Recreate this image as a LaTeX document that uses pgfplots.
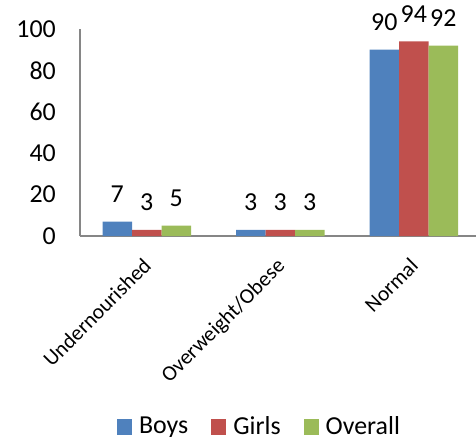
\documentclass[border=0pt]{standalone}
\usepackage{fontspec}
\setmainfont{Carlito}
\usepackage{pgfplots}
\pgfplotsset{compat=1.18}

\definecolor{boys}{HTML}{4F81BD}
\definecolor{girls}{HTML}{C0504D}
\definecolor{overall}{HTML}{9BBB59}
\definecolor{axisgray}{HTML}{868686}

\newcommand{\bigfont}{\fontsize{26}{31}\selectfont}
\newcommand{\catfont}{\fontsize{21.5}{25}\selectfont}

\begin{document}
\begin{tikzpicture}
\begin{axis}[
  scale only axis,
  width=396bp, height=207bp,
  xmin=-0.5, xmax=2.466,
  ymin=0, ymax=100,
  axis x line*=bottom,
  axis y line*=left,
  axis line style={axisgray, line width=1.3bp},
  ybar=0pt,
  bar width=29.5bp,
  xtick={0,1,2},
  xticklabels={Undernourished, Overweight/Obese, Normal},
  ytick={0,20,40,60,80,100},
  major tick length=0pt,
  /pgf/number format/assume math mode=true,
  yticklabel style={font=\bigfont, inner sep=0pt, anchor=east, xshift=-24bp},
  xticklabel style={font=\catfont, inner sep=0pt, rotate=45, anchor=north east, xshift=-18bp, yshift=-11bp},
  nodes near coords,
  every node near coord/.append style={font=\bigfont, text=black, inner sep=0pt, anchor=south, yshift=18.5bp},
  legend columns=-1,
  legend image code/.code={\fill[#1] (0bp,-9bp) rectangle (15bp,6.6bp);},
  legend style={
    at={(rel axis cs:0.4508,-0.918)}, anchor=center,
    draw=none, fill=none, font=\bigfont,
    nodes={inner sep=0pt},
    column sep=7bp,
    /tikz/every even column/.append style={column sep=23bp},
  },
]
\addplot[fill=boys, draw=none] coordinates {(0,7) (1,3) (2,90)};
\addplot[fill=girls, draw=none] coordinates {(0,3) (1,3) (2,94)};
\addplot[fill=overall, draw=none] coordinates {(0,5) (1,3) (2,92)};
\legend{Boys, Girls, Overall}
\coordinate (O) at (rel axis cs:0,0);
\end{axis}
\pgfresetboundingbox
\path[use as bounding box] (O) ++(-80bp,-201bp) rectangle ++(476bp,437bp);
\end{tikzpicture}
\end{document}
